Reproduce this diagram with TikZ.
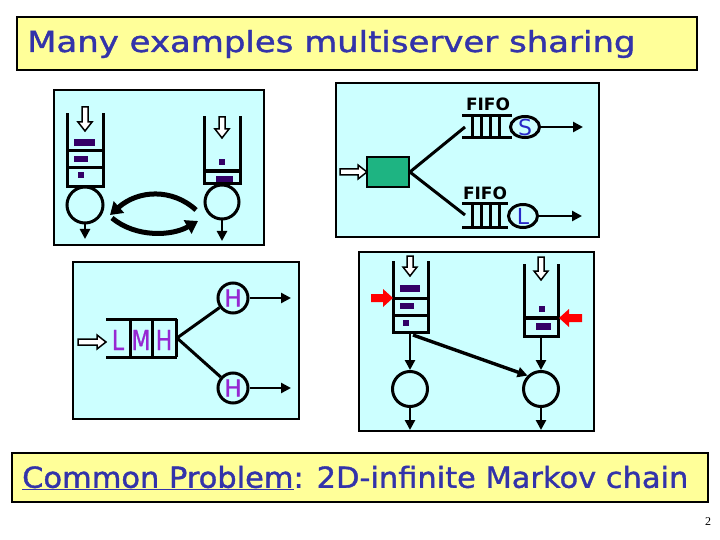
\documentclass[tikz,border=0pt]{standalone}
\usepackage{fontspec}
\usepackage{graphicx}
\usetikzlibrary{arrows.meta,shapes.geometric}
\setmainfont{Liberation Serif}
\newfontfamily\comic[FakeBold=1.2]{DejaVu Sans}
\newfontfamily\comicfifo{DejaVu Sans}
\definecolor{panel}{RGB}{204,255,255}
\definecolor{ttl}{RGB}{255,255,153}
\definecolor{tblue}{RGB}{51,51,170}
\definecolor{job}{RGB}{51,0,102}
\definecolor{sea}{RGB}{30,180,130}
\definecolor{hpurple}{RGB}{150,40,210}
\definecolor{sblue}{RGB}{40,40,200}
\newcommand\hollowdown[3]{\draw[fill=white,line width=1.5pt,line join=miter] ({#1-3},#2) -- ({#1+3},#2) -- ({#1+3},{#3-9}) -- ({#1+7},{#3-9}) -- (#1,#3) -- ({#1-7},{#3-9}) -- ({#1-3},{#3-9}) -- cycle;}
\newcommand\hollowright[3]{\draw[fill=white,line width=1.5pt,line join=miter] (#2,{#1-3}) -- (#2,{#1+3}) -- ({#3-9},{#1+3}) -- ({#3-9},{#1+7}) -- (#3,#1) -- ({#3-9},{#1-7}) -- ({#3-9},{#1-3}) -- cycle;}
\begin{document}
\begin{tikzpicture}[x=1pt,y=-1pt,
  panelbox/.style={draw=black,line width=1.8pt,fill=panel},
  ttlbox/.style={draw=black,line width=2.2pt,fill=ttl},
  wall/.style={line width=3pt,line cap=rect},
  jobbox/.style={fill=job},
  srv/.style={circle,draw,line width=3pt,minimum size=34pt,inner sep=0pt},
  srvs/.style={ellipse,draw,line width=3pt,minimum width=29pt,minimum height=21pt,inner sep=0pt},
  flow/.style={line width=2.8pt,-{Triangle[length=10pt,width=10pt]}},
  link/.style={line width=3pt},
  lens/.style={line width=5pt,-{Triangle[length=12pt,width=15pt]}},
  redarrow/.style={fill=red,draw=none},
  ttltext/.style={text=tblue,font=\comic\fontsize{29}{29}\selectfont,inner sep=0pt,anchor=west},
  fifo/.style={font=\comicfifo\bfseries\fontsize{17}{17}\selectfont,inner sep=0pt},
  srvletter/.style={text=sblue,font=\comicfifo\fontsize{22}{22}\selectfont,inner sep=0pt},
  hletter/.style={text=hpurple,font=\comic\fontsize{23}{23}\selectfont,inner sep=0pt}
]
\useasboundingbox (0,0) rectangle (720,540);
\fill[white] (0,0) rectangle (720,540);

% title
\draw[ttlbox] (17,17) rectangle (697,70);
\node[ttltext] (title) at (27,44) {\scalebox{1.17}[1]{Many examples multiserver sharing}};

% ---------- panel 1 ----------
\draw[panelbox] (54,90) rectangle (264,245);
% left queue
\draw[wall] (67,115) -- (67,187) -- (103,187) -- (103,115);
\draw[wall] (67,151) -- (103,151);
\draw[wall] (67,168) -- (103,168);
\fill[jobbox] (74,139) rectangle (95,146);
\fill[jobbox] (74,156) rectangle (88,162);
\fill[jobbox] (78,172) rectangle (84,178);
\hollowdown{85}{107}{131}
\node[srv,minimum size=36pt] (p1a) at (85,205) {};
\coordinate (p1aout) at (85,239);
\draw[flow] (p1a.south) -- (p1aout);
% right queue
\draw[wall] (204,118) -- (204,184) -- (240,184) -- (240,118);
\draw[line width=4pt] (204,171) -- (240,171);
\fill[jobbox] (219,159) rectangle (225,165);
\fill[jobbox] (216,176) rectangle (233,182);
\hollowdown{222}{117}{138}
\node[srv,minimum size=34pt] (p1b) at (222,202) {};
\coordinate (p1bout) at (222,241);
\draw[flow] (p1b.south) -- (p1bout);
% exchange arrows
\coordinate (lensR1) at (196,210);
\coordinate (lensL1) at (110,215);
\coordinate (lensL2) at (112,218);
\coordinate (lensR2) at (198,221);
\draw[lens] (lensR1) .. controls (172,188) and (138,190) .. (lensL1);
\draw[lens] (lensL2) .. controls (136,238) and (172,236) .. (lensR2);

% ---------- panel 2 ----------
\draw[panelbox] (336,83) rectangle (599,237);
\node[draw,line width=1.8pt,fill=sea,minimum width=42pt,minimum height=30pt,inner sep=0pt] (split) at (388,172) {};
\hollowright{172}{340}{367}
\coordinate (q2a) at (465,127);
\coordinate (q2b) at (465,215);
\draw[link] (split.east) -- (q2a);
\draw[link] (split.east) -- (q2b);
% upper FIFO queue
\draw[wall,line cap=butt] (462,116) -- (512,116);
\draw[wall,line cap=butt] (462,138) -- (512,138);
\foreach \x in {472,481,490,499}{\draw[line width=3pt] (\x,116) -- (\x,138);}
\node[srvs] (S) at (525,127) {};
\node[srvletter] at (S.center) {S};
\coordinate (Sout) at (583,127);
\draw[flow] (S.east) -- (Sout);
\node[fifo] (fifo1) at (488,104) {FIFO};
% lower FIFO queue
\draw[wall,line cap=butt] (462,204) -- (508,204);
\draw[wall,line cap=butt] (462,228) -- (508,228);
\foreach \x in {472,481,490,499}{\draw[line width=3pt] (\x,204) -- (\x,228);}
\node[srvs,minimum height=23pt] (L) at (523,216) {};
\node[srvletter] at (L.center) {L};
\coordinate (Lout) at (582,216);
\draw[flow] (L.east) -- (Lout);
\node[fifo] (fifo2) at (485,193) {FIFO};

% ---------- panel 3 ----------
\draw[panelbox] (73,262) rectangle (299,419);
\hollowright{342}{78}{106}
\draw[wall,line cap=butt] (106,319) -- (177,319);
\draw[wall,line cap=butt] (106,357) -- (177,357);
\foreach \x in {130,152,176}{\draw[line width=3pt] (\x,319) -- (\x,357);}
\node[hletter] (qL) at (118,340) {\scalebox{0.95}[1.2]{L}};
\node[hletter] (qM) at (141,340) {\scalebox{0.95}[1.2]{M}};
\node[hletter] (qH) at (164,340) {\scalebox{0.95}[1.2]{H}};
\coordinate (q3out) at (177,338);
\node[srv,minimum size=30pt] (h1) at (233,298) {};
\node[hletter] at (h1.center) {H};
\node[srv,minimum size=30pt] (h2) at (233,388) {};
\node[hletter] at (h2.center) {H};
\draw[link] (q3out) -- (h1);
\draw[link] (q3out) -- (h2);
\coordinate (h1out) at (291,298);
\coordinate (h2out) at (291,388);
\draw[flow] (h1.east) -- (h1out);
\draw[flow] (h2.east) -- (h2out);

% ---------- panel 4 ----------
\draw[panelbox] (359,252) rectangle (594,431);
% left queue
\draw[wall] (393,262) -- (393,332) -- (428,332) -- (428,262);
\draw[wall] (393,298) -- (428,298);
\draw[wall] (393,315) -- (428,315);
\fill[jobbox] (400,285) rectangle (420,292);
\fill[jobbox] (400,303) rectangle (414,309);
\fill[jobbox] (403,320) rectangle (409,326);
\hollowdown{410}{256}{276}
\fill[redarrow] (371,294) -- (383,294) -- (383,289) -- (393,298) -- (383,307) -- (383,302) -- (371,302) -- cycle;
% right queue
\draw[wall] (524,265) -- (524,336) -- (558,336) -- (558,265);
\draw[line width=4pt] (524,318) -- (558,318);
\fill[jobbox] (539,306) rectangle (545,312);
\fill[jobbox] (536,323) rectangle (551,330);
\hollowdown{541}{257}{280}
\fill[redarrow] (582,314) -- (569,314) -- (569,309) -- (559,318) -- (569,327) -- (569,322) -- (582,322) -- cycle;
% servers
\node[srv,minimum size=35pt] (c1) at (410,389) {};
\node[srv,minimum size=35pt] (c2) at (541,389) {};
\coordinate (q4a) at (410,334);
\coordinate (q4ad) at (413,335);
\coordinate (q4b) at (541,338);
\draw[flow] (q4a) -- (c1.north);
\draw[flow] (q4b) -- (c2.north);
\draw[flow,line width=3.4pt] (q4ad) -- (c2.north west);
\coordinate (c1out) at (410,430);
\coordinate (c2out) at (541,430);
\draw[flow] (c1.south) -- (c1out);
\draw[flow] (c2.south) -- (c2out);

% bottom banner
\draw[ttlbox] (12,453) rectangle (708,502);
\node[ttltext] (common) at (22,478) {\scalebox{1.05}[1]{\underline{Common Problem}: 2D-infinite Markov chain}};

% page number
\node[font=\fontsize{12}{12}\selectfont,inner sep=0pt] (pnum) at (708,522) {2};
\end{tikzpicture}
\end{document}
